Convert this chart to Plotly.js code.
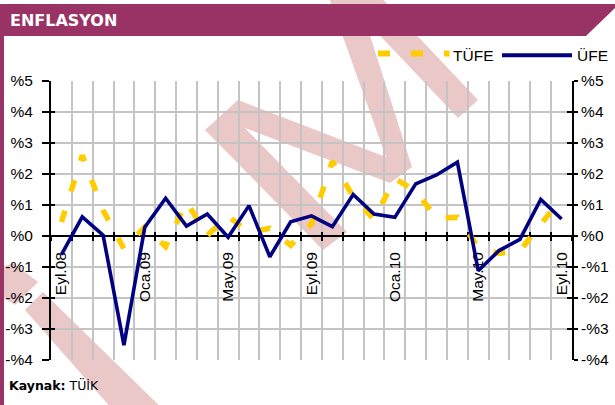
<!DOCTYPE html>
<html>
<head>
<meta charset="utf-8">
<script src="https://cdn.plot.ly/plotly-3.0.1.min.js"></script>
<style>
html,body{margin:0;padding:0;background:#fff;}
#chart{width:615px;height:405px;}
</style>
</head>
<body>
<div id="chart"></div>
<script>
// ---- data ----
const months = ['Eyl.08','Eki.08','Kas.08','Ara.08','Oca.09','Şub.09','Mar.09','Nis.09','May.09','Haz.09','Tem.09','Ağu.09',
                'Eyl.09','Eki.09','Kas.09','Ara.09','Oca.10','Şub.10','Mar.10','Nis.10','May.10','Haz.10','Tem.10','Ağu.10','Eyl.10'];
const tufe = [0.45, 2.60, 0.83, -0.41, 0.29, -0.34, 1.10, 0.02, 0.64, 0.11, 0.25, -0.30,
              0.39, 2.41, 1.27, 0.53, 1.85, 1.45, 0.58, 0.60, -0.36, -0.56, -0.48, 0.40, 1.23];
const ufe  = [-0.60, 0.62, 0.03, -3.52, 0.28, 1.22, 0.32, 0.71, -0.04, 0.98, -0.67, 0.46,
              0.65, 0.30, 1.34, 0.71, 0.60, 1.68, 1.97, 2.38, -1.12, -0.47, -0.11, 1.18, 0.55];
const xLabelMonths = ['Eyl.08','Oca.09','May.09','Eyl.09','Oca.10','May.10','Eyl.10'];
const yTickVals = [-4,-3,-2,-1,0,1,2,3,4,5];
const yTickText = ['-%4','-%3','-%2','-%1','%0','%1','%2','%3','%4','%5'];
const seriesNames = ['TÜFE','ÜFE'];

// ---- layout helpers ----
const W = 615, H = 405, ML = 51, MR = 43, MT = 81, MB = 45;
const PW = W - ML - MR, PH = H - MT - MB;
const px2x = p => (p - ML) / PW;
const py2y = p => (H - MB - p) / PH;
const pathFrom = pts => 'M' + pts.map(p => px2x(p[0]).toFixed(5) + ',' + py2y(p[1]).toFixed(5)).join('L') + 'Z';

const xIdx = months.map((m, i) => i);
const xRange = [-0.5, months.length - 0.5];
const yRange = [-4, 5];
const zeroPos = (0 - yRange[0]) / (yRange[1] - yRange[0]);

const YELLOW = '#FFCC00', NAVY = '#000080', GRID = '#C4C4C4', PINK = '#EBC8C8', PURPLE = '#993366';
const tickFont = {family: 'Liberation Sans, Arial, sans-serif', size: 15.5, color: '#000'};

const traces = [
  {type: 'scatter', mode: 'lines', name: seriesNames[0], x: xIdx, y: tufe, text: months,
   line: {color: YELLOW, width: 5.5, dash: '12px,20px'}, xaxis: 'x', yaxis: 'y', hoverinfo: 'skip', showlegend: false},
  {type: 'scatter', mode: 'lines', name: seriesNames[1], x: xIdx, y: ufe, text: months,
   line: {color: NAVY, width: 3.6}, xaxis: 'x', yaxis: 'y', hoverinfo: 'skip', showlegend: false}
];
// empty helper traces so that the overlay axes are drawn
[['x2','y'],['x3','y'],['x4','y'],['x','y2'],['x','y3'],['x','y4']].forEach(a => {
  traces.push({type: 'scatter', mode: 'lines', x: [], y: [], xaxis: a[0], yaxis: a[1], hoverinfo: 'skip', showlegend: false});
});

const watermark = [
  [[13,263],[38,282],[15,305],[-5,292],[-5,270]],
  [[25,310],[43,292],[172,418],[120,418]],
  [[205,130],[238,100],[386,157],[328,-5],[357,-5],[412,167],[390,183],[245,128],[347,232],[323,250]],
  [[337,-10],[374,-10],[478,100],[458,118]]
];

const shapes = watermark.map(pts => ({type: 'path', xref: 'paper', yref: 'paper', path: pathFrom(pts),
  fillcolor: PINK, line: {width: 0}, layer: 'below'}));
// header bar and left frame
shapes.push({type: 'path', xref: 'paper', yref: 'paper', layer: 'above',
  path: pathFrom([[0,4],[616,4],[616,7],[586,36],[0,36]]), fillcolor: PURPLE, line: {width: 0}});
shapes.push({type: 'rect', xref: 'paper', yref: 'paper', layer: 'above',
  x0: px2x(0), x1: px2x(4), y0: py2y(4), y1: py2y(406), fillcolor: PURPLE, line: {width: 0}});
// custom legend samples
shapes.push({type: 'line', xref: 'paper', yref: 'paper', x0: px2x(378), x1: px2x(449.5), y0: py2y(53.5), y1: py2y(53.5),
  line: {color: YELLOW, width: 6, dash: '12px,21px'}});
shapes.push({type: 'line', xref: 'paper', yref: 'paper', x0: px2x(502), x1: px2x(572), y0: py2y(55.3), y1: py2y(55.3),
  line: {color: NAVY, width: 4}});

const annotations = [
  {text: '<b>ENFLASYON</b>', xref: 'paper', yref: 'paper', x: px2x(8), y: py2y(20), xanchor: 'left', yanchor: 'middle',
   showarrow: false, font: {family: 'DejaVu Sans, Verdana, sans-serif', size: 16, color: '#fff'}},
  {text: seriesNames[0], xref: 'paper', yref: 'paper', x: px2x(451), y: py2y(55), xanchor: 'left', yanchor: 'middle',
   showarrow: false, font: tickFont},
  {text: seriesNames[1], xref: 'paper', yref: 'paper', x: px2x(574.5), y: py2y(55), xanchor: 'left', yanchor: 'middle',
   showarrow: false, font: tickFont},
  {text: '<b>Kaynak:</b> TÜİK', xref: 'paper', yref: 'paper', x: px2x(7), y: py2y(385), xanchor: 'left', yanchor: 'middle',
   showarrow: false, font: {family: 'DejaVu Sans, Verdana, sans-serif', size: 12.5, color: '#000'}}
];

const baseX = {range: xRange, fixedrange: true, zeroline: false, automargin: false};
const baseY = {range: yRange, fixedrange: true, zeroline: false, automargin: false};

const layout = {
  width: W, height: H,
  margin: {l: ML, r: MR, t: MT, b: MB, pad: 0},
  paper_bgcolor: '#fff', plot_bgcolor: 'rgba(0,0,0,0)',
  showlegend: false,
  hovermode: false,
  xaxis: Object.assign({}, baseX, {type: 'linear', tickmode: 'linear', tick0: -0.5, dtick: 1,
    showgrid: true, gridcolor: GRID, gridwidth: 2, showticklabels: false, ticks: '', showline: false}),
  xaxis2: Object.assign({}, baseX, {type: 'linear', overlaying: 'x', anchor: 'free', position: zeroPos,
    tickmode: 'array', tickvals: xLabelMonths.map(m => months.indexOf(m)), ticktext: xLabelMonths,
    tickangle: -90, ticks: '', showgrid: false, showline: false, tickfont: tickFont, ticklabelstandoff: 12, layer: 'below traces'}),
  xaxis3: Object.assign({}, baseX, {type: 'linear', overlaying: 'x', anchor: 'free', position: zeroPos,
    tickmode: 'linear', tick0: -0.5, dtick: 1, ticks: 'outside', ticklen: 4, tickwidth: 2, tickcolor: '#000',
    showline: true, linecolor: '#000', linewidth: 2, showgrid: false, showticklabels: false, layer: 'below traces'}),
  xaxis4: Object.assign({}, baseX, {type: 'linear', overlaying: 'x', anchor: 'free', position: zeroPos,
    tickmode: 'linear', tick0: -0.5, dtick: 1, ticks: 'inside', ticklen: 4, tickwidth: 2, tickcolor: '#000',
    showline: false, showgrid: false, showticklabels: false, layer: 'below traces'}),
  yaxis: Object.assign({}, baseY, {tickmode: 'array', tickvals: yTickVals, ticktext: yTickText,
    showgrid: true, gridcolor: GRID, gridwidth: 2, ticks: 'outside', ticklen: 7, tickwidth: 2, tickcolor: '#000',
    showline: true, linecolor: '#000', linewidth: 2, tickfont: tickFont, ticklabelstandoff: 6, layer: 'below traces'}),
  yaxis2: Object.assign({}, baseY, {overlaying: 'y', side: 'left', tickmode: 'array', tickvals: yTickVals,
    ticks: 'inside', ticklen: 4, tickwidth: 2, tickcolor: '#000', showgrid: false, showline: false, showticklabels: false, layer: 'below traces'}),
  yaxis3: Object.assign({}, baseY, {overlaying: 'y', side: 'right', tickmode: 'array', tickvals: yTickVals, ticktext: yTickText,
    ticks: 'outside', ticklen: 4, tickwidth: 2, tickcolor: '#000', showgrid: false,
    showline: true, linecolor: '#000', linewidth: 2, tickfont: tickFont, ticklabelstandoff: 0, layer: 'below traces'}),
  yaxis4: Object.assign({}, baseY, {overlaying: 'y', side: 'right', tickmode: 'array', tickvals: yTickVals,
    ticks: 'inside', ticklen: 5, tickwidth: 2, tickcolor: '#000', showgrid: false, showline: false, showticklabels: false, layer: 'below traces'}),
  shapes: shapes,
  annotations: annotations
};

Plotly.newPlot('chart', traces, layout, {staticPlot: true, displayModeBar: false});
</script>
</body>
</html>
